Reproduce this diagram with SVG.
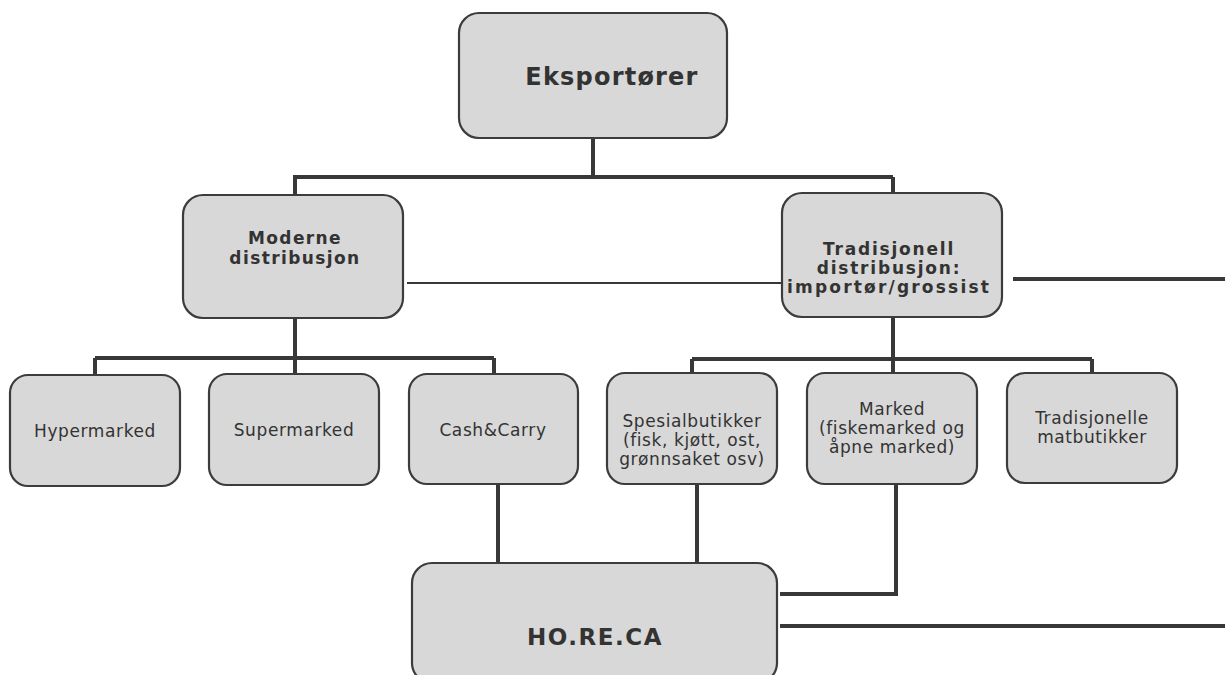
<svg xmlns="http://www.w3.org/2000/svg" width="1225" height="675" viewBox="0 0 1225 675">
<defs>
<style>
.box{fill:#d8d8d8;stroke:#3c3c3c;stroke-width:2.2}
.ln{fill:none;stroke:#383838;stroke-width:4;stroke-linecap:butt;stroke-linejoin:miter}
.thin{fill:none;stroke:#383838;stroke-width:2}
.b{font-family:"DejaVu Sans",Verdana,sans-serif;font-weight:bold;fill:#333;text-anchor:middle}
.r{font-family:"DejaVu Sans",Verdana,sans-serif;fill:#333;text-anchor:middle;font-size:17px;letter-spacing:0.6px}
</style>
</defs>
<rect width="1225" height="675" fill="#fff"/>
<g id="connectors">
<path class="ln" d="M593 138V177M293 177H893M295 177V195M893 177V193"/>
<path class="thin" d="M407 283H782"/>
<path class="ln" d="M1013 279H1225"/>
<path class="ln" d="M295 318V358M95 358H494M95 358V375M295 358V374M494 358V374"/>
<path class="ln" d="M893 317V359M692 359H1092M692 359V373M893 359V373M1092 359V373"/>
<path class="ln" d="M498 484V563M697 484V563"/>
<path class="ln" d="M896 484V594H780"/>
<path class="ln" d="M780 626H1225"/>
</g>
<g id="eksportorer">
<rect class="box" x="459" y="13" width="268" height="125" rx="20"/>
<text class="b" x="612" y="85" font-size="24" letter-spacing="1.2">Eksportører</text>
</g>
<g id="moderne">
<rect class="box" x="183" y="195" width="220" height="123" rx="20"/>
<text class="b" x="295" y="244" font-size="17" letter-spacing="1.4">Moderne</text>
<text class="b" x="295" y="264" font-size="17" letter-spacing="1.4">distribusjon</text>
</g>
<g id="tradisjonell">
<rect class="box" x="782" y="193" width="220" height="124" rx="20"/>
<text class="b" x="889" y="255" font-size="17" letter-spacing="1.8">Tradisjonell</text>
<text class="b" x="889" y="274" font-size="17" letter-spacing="1.8">distribusjon:</text>
<text class="b" x="889" y="293" font-size="17" letter-spacing="2.2">importør/grossist</text>
</g>
<g id="hypermarked">
<rect class="box" x="10" y="375" width="170" height="111" rx="18"/>
<text class="r" x="95" y="437">Hypermarked</text>
</g>
<g id="supermarked">
<rect class="box" x="209" y="374" width="170" height="111" rx="18"/>
<text class="r" x="294" y="436">Supermarked</text>
</g>
<g id="cashcarry">
<rect class="box" x="409" y="374" width="169" height="110" rx="18"/>
<text class="r" x="493" y="436" letter-spacing="0.2">Cash&amp;Carry</text>
</g>
<g id="spesialbutikker">
<rect class="box" x="607" y="373" width="170" height="111" rx="18"/>
<text class="r" x="692" y="427" font-size="16.5" letter-spacing="1">Spesialbutikker</text>
<text class="r" x="692" y="446" font-size="16.5" letter-spacing="1">(fisk, kjøtt, ost,</text>
<text class="r" x="692" y="465" font-size="16.5" letter-spacing="1">grønnsaket osv)</text>
</g>
<g id="marked">
<rect class="box" x="807" y="373" width="170" height="111" rx="18"/>
<text class="r" x="892" y="415" font-size="15" letter-spacing="0.4">Marked</text>
<text class="r" x="892" y="434" font-size="15" letter-spacing="0.4">(fiskemarked og</text>
<text class="r" x="892" y="453" font-size="15" letter-spacing="0.4">åpne marked)</text>
</g>
<g id="tradisjonelle">
<rect class="box" x="1007" y="373" width="170" height="110" rx="18"/>
<text class="r" x="1092" y="424" font-size="16.5" letter-spacing="0.5">Tradisjonelle</text>
<text class="r" x="1092" y="443" font-size="16.5" letter-spacing="0.5">matbutikker</text>
</g>
<g id="horeca">
<rect class="box" x="412" y="563" width="365" height="120" rx="20"/>
<text class="b" x="595" y="645" font-size="23" letter-spacing="1.5">HO.RE.CA</text>
</g>
</svg>
